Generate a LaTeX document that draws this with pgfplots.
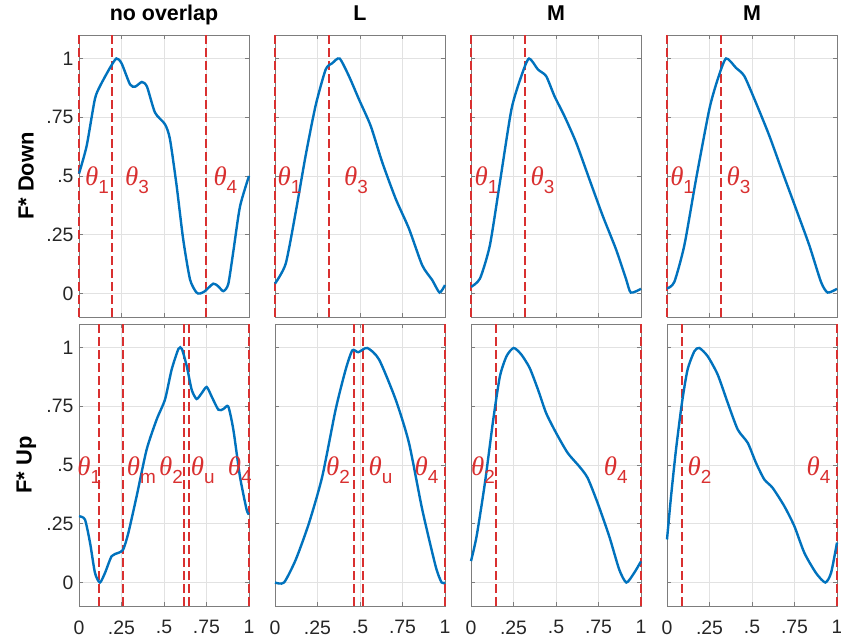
\documentclass[border=0pt]{standalone}
\usepackage{fontspec}
\setmainfont{Liberation Sans}
\newfontfamily\thfont{Liberation Serif}
\usepackage{pgfplots}
\pgfplotsset{compat=1.18}
\usepgfplotslibrary{groupplots}

\definecolor{mblue}{RGB}{0,114,189}
\definecolor{mred}{RGB}{217,48,48}
\definecolor{axgray}{RGB}{125,125,125}
\definecolor{gridgray}{RGB}{226,226,226}

% theta label with a lowered subscript
\newcommand{\thlab}[1]{{\thfont\itshape\fontsize{27}{27}\selectfont θ}\raisebox{-8bp}{\fontsize{19}{19}\selectfont #1}}

\tikzset{thnode/.style={anchor=base west, inner sep=0pt, text=mred}}

\pgfplotsset{
  panel/.style={
    width=170bp, height=282bp, scale only axis,
    xmin=0, xmax=1, ymin=-0.1, ymax=1.1,
    xtick={0,0.25,0.5,0.75,1}, xticklabels={0,.25,.5,.75,1},
    ytick={0,0.25,0.5,0.75,1}, yticklabels={0,.25,.5,.75,1},
    grid=major, major grid style={gridgray, line width=0.6bp},
    axis line style={axgray, line width=0.8bp},
    tick style={axgray, line width=0.6bp},
    tick align=inside, major tick length=4bp,
    tick label style={font=\fontsize{19.5}{19.5}\selectfont, text=black!85},
    xticklabel style={yshift=-11bp},
    yticklabel style={xshift=-2bp},
    /pgf/number format/assume math mode=true,
    clip=false,
    title style={font=\bfseries\fontsize{21.5}{21.5}\selectfont,
      at={(axis description cs:0.5,1)}, anchor=base, yshift=9bp},
    ylabel style={font=\bfseries\fontsize{22}{22}\selectfont,
      at={(axis description cs:-0.31,0.5)}, anchor=center},
  },
  curve/.style={draw=mblue, line width=2.4bp, smooth, tension=0.4},
  tline/.style={draw=mred, line width=2bp, dash pattern=on 9bp off 4bp},
}

\begin{document}
\begin{tikzpicture}
\begin{groupplot}[
  group style={group size=4 by 2, horizontal sep=26bp, vertical sep=7bp,
    xticklabels at=edge bottom, yticklabels at=edge left},
  panel]

% ---------------- row 1: F* Down ----------------
\nextgroupplot[title={no overlap}, ylabel={F* Down}]
\addplot[tline] coordinates {(0,-0.1) (0,1.1)};
\addplot[tline] coordinates {(0.192,-0.1) (0.192,1.1)};
\addplot[tline] coordinates {(0.747,-0.1) (0.747,1.1)};
\addplot[curve] coordinates {
 (0,0.51) (0.045,0.628) (0.093,0.826) (0.124,0.883) (0.182,0.96) (0.22,1.0)
 (0.25,0.98) (0.30,0.89) (0.33,0.88) (0.37,0.90) (0.40,0.88) (0.447,0.77)
 (0.506,0.72) (0.535,0.657) (0.574,0.46) (0.613,0.23) (0.653,0.06) (0.69,0.005)
 (0.712,0.0) (0.741,0.01) (0.79,0.042) (0.82,0.03) (0.849,0.01) (0.878,0.04)
 (0.908,0.18) (0.947,0.37) (1.0,0.50)};
\node[thnode] at (axis cs:0.035,0.46) {\thlab{1}};
\node[thnode] at (axis cs:0.27,0.46) {\thlab{3}};
\node[thnode] at (axis cs:0.79,0.46) {\thlab{4}};

\nextgroupplot[title={L}]
\addplot[tline] coordinates {(0,-0.1) (0,1.1)};
\addplot[tline] coordinates {(0.32,-0.1) (0.32,1.1)};
\addplot[curve] coordinates {
 (0,0.042) (0.063,0.127) (0.122,0.347) (0.18,0.586) (0.239,0.80) (0.298,0.953)
 (0.337,0.98) (0.38,1.0) (0.435,0.925) (0.494,0.826) (0.563,0.713) (0.631,0.558)
 (0.71,0.403) (0.788,0.276) (0.866,0.12) (0.925,0.057) (0.968,0.004) (1.0,0.036)};
\node[thnode] at (axis cs:0.014,0.46) {\thlab{1}};
\node[thnode] at (axis cs:0.405,0.46) {\thlab{3}};

\nextgroupplot[title={M}]
\addplot[tline] coordinates {(0,-0.1) (0,1.1)};
\addplot[tline] coordinates {(0.32,-0.1) (0.32,1.1)};
\addplot[curve] coordinates {
 (0,0.028) (0.053,0.064) (0.111,0.205) (0.17,0.473) (0.238,0.784) (0.296,0.925)
 (0.341,1.0) (0.394,0.953) (0.442,0.925) (0.491,0.84) (0.549,0.756) (0.618,0.643)
 (0.696,0.487) (0.774,0.332) (0.852,0.19) (0.911,0.064) (0.94,0.004) (1.0,0.02)};
\node[thnode] at (axis cs:0.02,0.46) {\thlab{1}};
\node[thnode] at (axis cs:0.35,0.46) {\thlab{3}};

\nextgroupplot[title={M}]
\addplot[tline] coordinates {(0,-0.1) (0,1.1)};
\addplot[tline] coordinates {(0.32,-0.1) (0.32,1.1)};
\addplot[curve] coordinates {
 (0,0.021) (0.043,0.049) (0.102,0.205) (0.171,0.487) (0.249,0.784) (0.298,0.911)
 (0.347,1.0) (0.406,0.96) (0.455,0.925) (0.523,0.812) (0.602,0.671) (0.68,0.515)
 (0.759,0.36) (0.837,0.205) (0.906,0.049) (0.945,0.004) (1.0,0.02)};
\node[thnode] at (axis cs:0.018,0.46) {\thlab{1}};
\node[thnode] at (axis cs:0.35,0.46) {\thlab{3}};

% ---------------- row 2: F* Up ----------------
\nextgroupplot[ylabel={F* Up}]
\addplot[tline] coordinates {(0.118,-0.1) (0.118,1.1)};
\addplot[tline] coordinates {(0.26,-0.1) (0.26,1.1)};
\addplot[tline] coordinates {(0.618,-0.1) (0.618,1.1)};
\addplot[tline] coordinates {(0.645,-0.1) (0.645,1.1)};
\addplot[tline] coordinates {(1,-0.1) (1,1.1)};
\addplot[curve] coordinates {
 (0,0.282) (0.035,0.268) (0.065,0.169) (0.094,0.041) (0.123,0.0) (0.153,0.041)
 (0.192,0.112) (0.231,0.126) (0.26,0.14) (0.29,0.21) (0.339,0.367) (0.398,0.566)
 (0.457,0.694) (0.506,0.779) (0.545,0.906) (0.585,0.994) (0.605,0.994) (0.634,0.92)
 (0.663,0.82) (0.692,0.781) (0.722,0.806) (0.751,0.832) (0.78,0.792) (0.82,0.735)
 (0.849,0.738) (0.878,0.749) (0.908,0.65) (0.947,0.45) (0.986,0.31) (1.0,0.29)};
\node[thnode] at (axis cs:-0.01,0.455) {\thlab{1}};
\node[thnode] at (axis cs:0.28,0.455) {\thlab{m}};
\node[thnode] at (axis cs:0.47,0.455) {\thlab{2}};
\node[thnode] at (axis cs:0.657,0.455) {\thlab{u}};
\node[thnode] at (axis cs:0.875,0.455) {\thlab{4}};

\nextgroupplot
\addplot[tline] coordinates {(0.465,-0.1) (0.465,1.1)};
\addplot[tline] coordinates {(0.52,-0.1) (0.52,1.1)};
\addplot[tline] coordinates {(1,-0.1) (1,1.1)};
\addplot[curve] coordinates {
 (0,0.0) (0.053,0.0) (0.122,0.097) (0.2,0.253) (0.278,0.451) (0.357,0.737)
 (0.416,0.907) (0.455,0.988) (0.49,0.98) (0.543,0.998) (0.612,0.949) (0.71,0.778)
 (0.788,0.594) (0.866,0.311) (0.945,0.069) (0.98,0.0) (1.0,0.0)};
\node[thnode] at (axis cs:0.30,0.455) {\thlab{2}};
\node[thnode] at (axis cs:0.55,0.455) {\thlab{u}};
\node[thnode] at (axis cs:0.82,0.455) {\thlab{4}};

\nextgroupplot
\addplot[tline] coordinates {(0.145,-0.1) (0.145,1.1)};
\addplot[tline] coordinates {(1,-0.1) (1,1.1)};
\addplot[curve] coordinates {
 (0,0.091) (0.033,0.197) (0.082,0.424) (0.131,0.694) (0.17,0.877) (0.209,0.963)
 (0.251,0.998) (0.296,0.97) (0.345,0.913) (0.394,0.821) (0.442,0.721) (0.501,0.636)
 (0.569,0.551) (0.637,0.494) (0.686,0.445) (0.745,0.338) (0.813,0.197) (0.872,0.055)
 (0.914,0.0) (0.959,0.04) (1.0,0.09)};
\node[thnode] at (axis cs:0.0,0.455) {\thlab{2}};
\node[thnode] at (axis cs:0.78,0.455) {\thlab{4}};

\nextgroupplot
\addplot[tline] coordinates {(0.088,-0.1) (0.088,1.1)};
\addplot[tline] coordinates {(1,-0.1) (1,1.1)};
\addplot[curve] coordinates {
 (0,0.183) (0.024,0.368) (0.053,0.566) (0.088,0.765) (0.121,0.906) (0.161,0.984)
 (0.19,0.998) (0.239,0.963) (0.298,0.885) (0.357,0.765) (0.416,0.651) (0.475,0.594)
 (0.523,0.51) (0.572,0.439) (0.621,0.403) (0.69,0.325) (0.749,0.24) (0.808,0.126)
 (0.876,0.041) (0.931,0.0) (0.965,0.041) (1.0,0.17)};
\node[thnode] at (axis cs:0.12,0.455) {\thlab{2}};
\node[thnode] at (axis cs:0.82,0.455) {\thlab{4}};
\end{groupplot}
\pgfresetboundingbox
\path[use as bounding box] ([shift={(-79bp,35bp)}]group c1r1.north west)
  rectangle ([shift={(4bp,-38bp)}]group c4r2.south east);
\end{tikzpicture}
\end{document}
